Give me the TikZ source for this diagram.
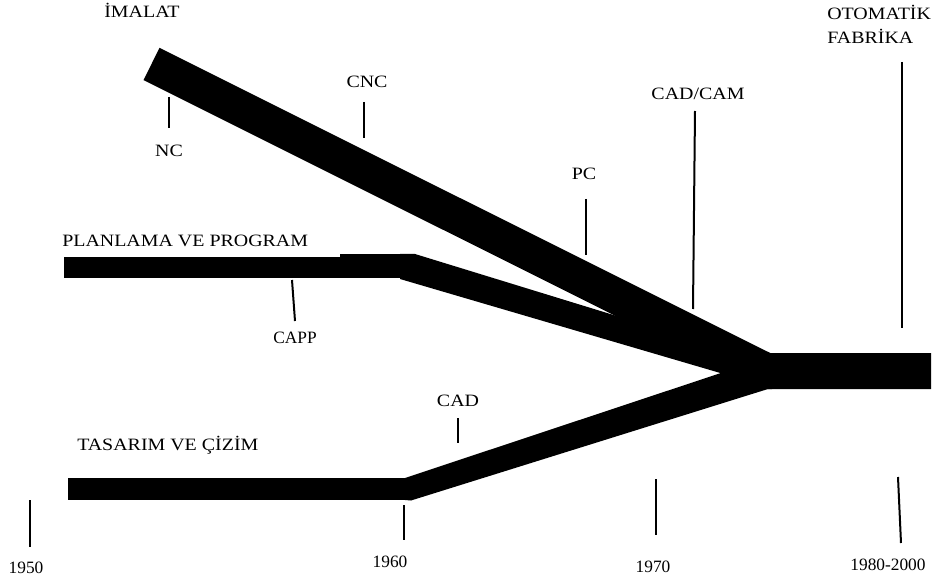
\documentclass[tikz,border=0pt]{standalone}
\usepackage{fontspec}
\setmainfont{Liberation Serif}
\usepackage{graphicx}
\newcommand{\widelbl}[1]{\scalebox{1.15}[1]{#1}}
\begin{document}
\begin{tikzpicture}[x=0.75pt,y=-0.75pt,
  band/.style={line width=#1, line cap=butt, line join=bevel, draw=black},
  band/.default=22,
  tick/.style={line width=1.5pt, draw=black},
  lbl/.style={inner sep=0pt, anchor=base, font=\fontsize{13pt}{15pt}\selectfont},
  yr/.style={inner sep=0pt, anchor=base, font=\fontsize{13pt}{15pt}\selectfont}]
\useasboundingbox (0,0) rectangle (936,581);

% trunk leading to the automated factory
\coordinate (J) at (766,371);
\fill (760,353) -- (931,353) -- (931,389) -- (768,389) -- cycle;

% manufacturing branch
\coordinate (im0) at (151.5,64);
\draw[band=27] (im0) -- (J);

% planning branch: straight part, small step, slanted part
\fill (64,257) rectangle (407,278);
\fill (340,254) rectangle (415,278);
\fill (405,254) -- (415,254) -- (760,360) -- (768,387) -- (400,279) -- (400,254) -- cycle;

% design branch: straight part, slanted part
\fill (68,478) rectangle (409,500);
\fill (405,478) -- (760,360) -- (768,389) -- (411,500.5) -- (405,500) -- cycle;

% solid patch where the three branches meet the trunk
\fill (748,362) -- (772,353) -- (772,389) -- (766,389) -- cycle;

% branch titles
\node[lbl] (imalat) at (142,18) {\widelbl{İMALAT}};
\node[lbl, anchor=base west] (oto1) at (827,20) {\widelbl{OTOMATİK}};
\node[lbl, anchor=base west] (oto2) at (827,44) {\widelbl{FABRİKA}};
\node[lbl, anchor=base west] (plan) at (62,247) {\widelbl{PLANLAMA VE PROGRAM}};
\node[lbl, anchor=base west] (tas) at (77,450) {\widelbl{TASARIM VE ÇİZİM}};

% technology markers
\node[lbl] (nc) at (169,157) {\widelbl{NC}};
\coordinate (ncA) at (169,97);  \coordinate (ncB) at (169,128);
\draw[tick] (ncA) -- (ncB);

\node[lbl] (cnc) at (367,88) {\widelbl{CNC}};
\coordinate (cncA) at (364,102); \coordinate (cncB) at (364,138);
\draw[tick] (cncA) -- (cncB);

\node[lbl] (pc) at (584,180) {\widelbl{PC}};
\coordinate (pcA) at (586,199); \coordinate (pcB) at (586,255);
\draw[tick] (pcA) -- (pcB);

\node[lbl] (cadcam) at (698,100) {\widelbl{CAD/CAM}};
\coordinate (ccA) at (695,111); \coordinate (ccB) at (693,309);
\draw[tick] (ccA) -- (ccB);

\coordinate (otA) at (902,62); \coordinate (otB) at (902,328);
\draw[tick] (otA) -- (otB);

\node[yr] (capp) at (295,343) {CAPP};
\coordinate (capA) at (292,280); \coordinate (capB) at (295,321);
\draw[tick] (capA) -- (capB);

\node[lbl] (cad) at (458,406) {\widelbl{CAD}};
\coordinate (cadA) at (458,418); \coordinate (cadB) at (458,443);
\draw[tick] (cadA) -- (cadB);

% time axis
\node[yr] (y50) at (26,573) {1950};
\coordinate (y50A) at (30,500); \coordinate (y50B) at (30,547);
\draw[tick] (y50A) -- (y50B);

\node[yr] (y60) at (390,567) {1960};
\coordinate (y60A) at (404,505); \coordinate (y60B) at (404,540);
\draw[tick] (y60A) -- (y60B);

\node[yr] (y70) at (653,572) {1970};
\coordinate (y70A) at (656,479); \coordinate (y70B) at (656,535);
\draw[tick] (y70A) -- (y70B);

\node[yr] (y80) at (888,570) {1980-2000};
\coordinate (y80A) at (898,477); \coordinate (y80B) at (901,543);
\draw[tick] (y80A) -- (y80B);
\end{tikzpicture}
\end{document}
